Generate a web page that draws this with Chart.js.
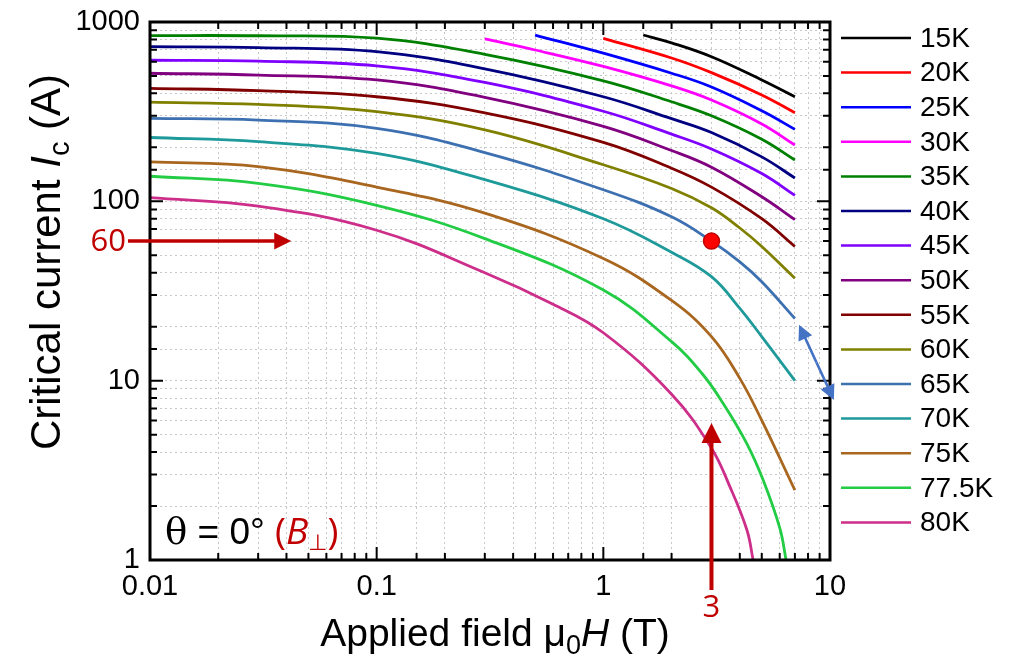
<!DOCTYPE html>
<html>
<head>
<meta charset="utf-8">
<title>Critical current vs applied field</title>
<script src="https://cdn.jsdelivr.net/npm/chart.js@4.4.1/dist/chart.umd.min.js"></script>
<style>
  body { margin: 0; background: #fff; }
  #wrap { width: 1011px; height: 670px; }
</style>
</head>
<body>
<div id="wrap"><canvas id="icChart" width="1011" height="670"></canvas></div>
<script>
// legend labels and line colours, one per temperature
const temps = ['15K', '20K', '25K', '30K', '35K', '40K', '45K', '50K', '55K', '60K', '65K', '70K', '75K', '77.5K', '80K'];
const lineColors = ['#000000', '#ff0000', '#0000ff', '#ff00ff', '#008000', '#000080', '#8000ff', '#800080',
                    '#800000', '#808000', '#3d70b0', '#1f9a9a', '#a8661f', '#22cc44', '#cc2e8a'];

// applied field (T) and critical current (A)
const h15 = [1.5, 2, 3, 5, 7];
const ic15 = [846, 765, 640, 475, 383];
const h20 = [1, 2, 3, 5, 7];
const ic20 = [811, 630, 522, 392, 312];
const h25 = [0.5, 1, 2, 3, 5, 7];
const ic25 = [846, 670, 518, 434, 320, 252];
const h30 = [0.3, 0.5, 1, 2, 3, 5, 7];
const ic30 = [804, 698, 565, 440, 367, 270, 206];

const hMid = [0.01, 0.03, 0.1, 0.3, 1, 2, 3, 5, 7];
const ic35 = [840, 838, 812, 660, 470, 359, 300, 222, 170];
const ic40 = [728, 719, 683, 548, 383, 289, 242, 177, 135];
const ic45 = [612, 605, 569, 460, 318, 237, 196, 143, 108];
const ic50 = [518, 506, 475, 380, 262, 192, 155, 106, 79];
const ic55 = [427, 414, 383, 311, 213, 153, 120, 80, 56];

const hLow = [0.01, 0.03, 0.1, 0.3, 1, 2, 3, 4, 5, 7];
const ic60 = [357, 347, 316, 250, 160, 118, 92, 71, 56, 37.2];
const ic65 = [290, 284, 255, 187, 116, 82, 60, 46, 35.6, 22.2];
const ic70 = [227, 215, 185, 132, 80, 52, 38, 25.3, 17.6, 10];
const ic75 = [166, 156, 120, 86, 48, 28, 17.6, 10.3, 6.0, 2.45];
const h775 = [0.01, 0.03, 0.1, 0.3, 1, 2, 2.72, 3.38, 4.29, 5.07, 6.01, 6.4];
const ic775 = [138, 126, 95, 62, 32, 16.5, 11.0, 7.46, 4.47, 2.79, 1.5, 1];
const h80 = [0.01, 0.03, 0.1, 0.3, 0.6, 1, 2, 3, 3.6, 4.3, 4.58];
const ic80 = [105, 94, 69, 40, 26.7, 18.5, 8.4, 4.2, 2.6, 1.47, 1];

// marked operating point
const markH = [3];
const markIc = [60];

// axis ranges and labelled ticks
const xRange = [0.01, 10];
const yRange = [1, 1000];
const xTickLabels = [0.01, 0.1, 1, 10];
const yTickLabels = [1, 10, 100, 1000];

const fieldSets = [h15, h20, h25, h30, hMid, hMid, hMid, hMid, hMid, hLow, hLow, hLow, hLow, h775, h80];
const currentSets = [ic15, ic20, ic25, ic30, ic35, ic40, ic45, ic50, ic55, ic60, ic65, ic70, ic75, ic775, ic80];

const FONT = "'Liberation Sans', Arial, sans-serif";
const RED = '#c00000';

function pts(h, ic) {
    return h.map((v, i) => ({ x: v, y: ic[i] }));
}
function isDecade(v) {
    const l = Math.log10(v);
    return Math.abs(l - Math.round(l)) < 1e-9;
}

const datasets = temps.map((t, i) => ({
    label: t,
    data: pts(fieldSets[i], currentSets[i]),
    borderColor: lineColors[i],
    backgroundColor: lineColors[i],
    borderWidth: 2.8,
    pointRadius: 0,
    tension: 0.4,
    fill: false
}));

datasets.push({
    label: 'point',
    data: pts(markH, markIc),
    showLine: false,
    pointRadius: 8,
    pointBackgroundColor: '#ff0000',
    pointBorderColor: '#c00000',
    pointBorderWidth: 1.5,
    order: -1
});

// draw a run of text pieces with mixed styles
function richText(ctx, parts, x, y, align) {
    let w = 0;
    parts.forEach(p => { ctx.font = p.font; w += ctx.measureText(p.t).width; });
    let cx = align === 'center' ? x - w / 2 : x;
    parts.forEach(p => {
        ctx.font = p.font;
        ctx.fillStyle = p.color || '#000';
        ctx.fillText(p.t, cx, y + (p.dy || 0));
        cx += ctx.measureText(p.t).width;
    });
}

function arrow(ctx, x1, y1, x2, y2, head, width, color) {
    const ang = Math.atan2(y2 - y1, x2 - x1);
    ctx.save();
    ctx.strokeStyle = color;
    ctx.fillStyle = color;
    ctx.lineWidth = width;
    ctx.beginPath();
    ctx.moveTo(x1, y1);
    ctx.lineTo(x2 - Math.cos(ang) * head * 0.8, y2 - Math.sin(ang) * head * 0.8);
    ctx.stroke();
    ctx.beginPath();
    ctx.moveTo(x2, y2);
    ctx.lineTo(x2 - head * Math.cos(ang) + head * 0.5 * Math.sin(ang), y2 - head * Math.sin(ang) - head * 0.5 * Math.cos(ang));
    ctx.lineTo(x2 - head * Math.cos(ang) - head * 0.5 * Math.sin(ang), y2 - head * Math.sin(ang) + head * 0.5 * Math.cos(ang));
    ctx.closePath();
    ctx.fill();
    ctx.restore();
}

const frameTicks = {
    id: 'frameTicks',
    afterDatasetsDraw(chart) {
        const { ctx, chartArea: a, scales: { x, y } } = chart;
        ctx.save();
        ctx.strokeStyle = '#000';
        ctx.lineWidth = 2;
        ctx.beginPath();
        x.ticks.forEach(t => {
            const px = x.getPixelForValue(t.value);
            const len = isDecade(t.value) ? 13 : 7;
            ctx.moveTo(px, a.bottom); ctx.lineTo(px, a.bottom - len);
            ctx.moveTo(px, a.top); ctx.lineTo(px, a.top + len);
        });
        y.ticks.forEach(t => {
            const py = y.getPixelForValue(t.value);
            const len = isDecade(t.value) ? 13 : 7;
            ctx.moveTo(a.left, py); ctx.lineTo(a.left + len, py);
            ctx.moveTo(a.right, py); ctx.lineTo(a.right - len, py);
        });
        ctx.stroke();
        ctx.lineWidth = 3;
        ctx.strokeRect(a.left, a.top, a.right - a.left, a.bottom - a.top);
        ctx.restore();
    }
};

const notes = {
    id: 'notes',
    afterDraw(chart) {
        const { ctx, chartArea: a, scales: { x, y } } = chart;
        ctx.save();
        ctx.textBaseline = 'alphabetic';

        // axis titles
        const tf = '39px ' + FONT;
        richText(ctx, [
            { t: 'Applied field ', font: tf },
            { t: '\u03bc', font: tf },
            { t: '0', font: '27px ' + FONT, dy: 8 },
            { t: 'H', font: 'italic ' + tf },
            { t: ' (T)', font: tf }
        ], 495, 646, 'center');

        const yf = '42px ' + FONT;
        ctx.save();
        ctx.translate(60, 262);
        ctx.rotate(-Math.PI / 2);
        richText(ctx, [
            { t: 'Critical current ', font: yf },
            { t: 'I', font: 'italic ' + yf },
            { t: 'c', font: '29px ' + FONT, dy: 9 },
            { t: ' (A)', font: yf }
        ], 0, 0, 'center');
        ctx.restore();

        // legend
        ctx.textBaseline = 'middle';
        temps.forEach((t, i) => {
            const ly = 38 + i * 34.6;
            ctx.strokeStyle = lineColors[i];
            ctx.lineWidth = 2.5;
            ctx.beginPath();
            ctx.moveTo(841, ly);
            ctx.lineTo(911, ly);
            ctx.stroke();
            ctx.fillStyle = '#000';
            ctx.font = '28px ' + FONT;
            ctx.fillText(t, 920, ly + 1);
        });

        // red guide arrows at 60 A and 3 T
        const y60 = y.getPixelForValue(markIc[0]);
        const x3 = x.getPixelForValue(markH[0]);
        arrow(ctx, a.left - 22, y60, x.getPixelForValue(0.042), y60, 17, 3.5, RED);
        arrow(ctx, x3, a.bottom + 30, x3, y.getPixelForValue(5.8), 20, 4, RED);
        ctx.fillStyle = RED;
        ctx.font = "31px 'Open Sans', sans-serif";
        ctx.textAlign = 'right';
        ctx.fillText('60', a.left - 24, y60 + 1);
        ctx.textAlign = 'center';
        ctx.fillText('3', x3, a.bottom + 48);
        ctx.textAlign = 'left';

        // blue double arrow beside the 65K end
        const bx1 = x.getPixelForValue(7.3), by1 = y.getPixelForValue(20.5);
        const bx2 = x.getPixelForValue(10.4), by2 = y.getPixelForValue(7.8);
        const mx = (bx1 + bx2) / 2, my = (by1 + by2) / 2;
        arrow(ctx, mx, my, bx1, by1, 15, 2.5, '#4472c4');
        arrow(ctx, mx, my, bx2, by2, 15, 2.5, '#4472c4');

        // angle note
        ctx.textBaseline = 'alphabetic';
        const nf = '37px ' + FONT;
        richText(ctx, [
            { t: '\u03b8', font: "37px 'DejaVu Serif', serif" },
            { t: ' = 0\u00b0 ', font: nf },
            { t: '(', font: "37px 'Open Sans', sans-serif", color: RED },
            { t: 'B', font: "italic 37px 'Open Sans', sans-serif", color: RED },
            { t: '\u22a5', font: "22px 'DejaVu Sans', sans-serif", color: RED, dy: 6 },
            { t: ')', font: "37px 'Open Sans', sans-serif", color: RED }
        ], 165, 544, 'left');
        ctx.restore();
    }
};

const ctx = document.getElementById('icChart');

new Chart(ctx, {
    type: 'line',
    data: { datasets: datasets },
    options: {
        responsive: false,
        animation: false,
        devicePixelRatio: 1,
        layout: { padding: { left: 0, top: 22, right: 181, bottom: 0 } },
        plugins: {
            legend: { display: false },
            tooltip: { enabled: false }
        },
        scales: {
            x: {
                type: 'logarithmic',
                min: xRange[0],
                max: xRange[1],
                afterFit: s => { s.height = 110; },
                grid: { color: '#c8c8c8', lineWidth: 1, drawTicks: false },
                border: { display: false, dash: [2, 3] },
                ticks: {
                    autoSkip: false,
                    maxRotation: 0,
                    padding: 10,
                    color: '#000',
                    font: { family: FONT, size: 29 },
                    callback: v => xTickLabels.some(t => Math.abs(t - v) < 1e-9 * t) ? String(v) : ''
                }
            },
            y: {
                type: 'logarithmic',
                min: yRange[0],
                max: yRange[1],
                afterFit: s => { s.width = 150; },
                grid: { color: '#c8c8c8', lineWidth: 1, drawTicks: false },
                border: { display: false, dash: [2, 3] },
                ticks: {
                    autoSkip: false,
                    padding: 10,
                    color: '#000',
                    font: { family: FONT, size: 29, lineHeight: 0.8 },
                    callback: v => yTickLabels.some(t => Math.abs(t - v) < 1e-9 * t) ? String(v) : ''
                }
            }
        }
    },
    plugins: [frameTicks, notes]
});
</script>
</body>
</html>
